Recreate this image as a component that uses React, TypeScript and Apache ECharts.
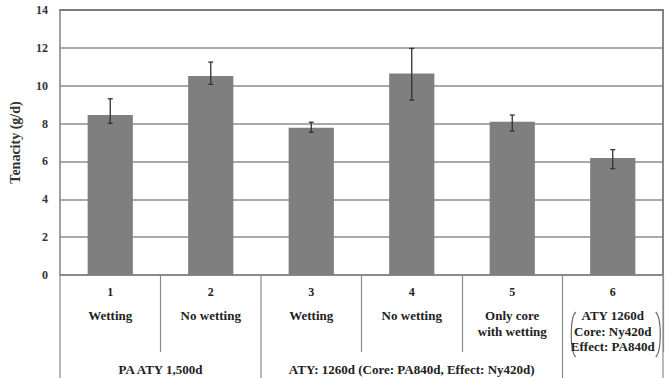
import React, { useEffect, useRef } from "react";
import * as echarts from "echarts";

const categories = ["1", "2", "3", "4", "5", "6"];
const descriptions = [
  "Wetting",
  "No wetting",
  "Wetting",
  "No wetting",
  "Only core\nwith wetting",
  "ATY 1260d\nCore: Ny420d\nEffect: PA840d",
];
const tenacity = [8.45, 10.51, 7.78, 10.65, 8.1, 6.18];
const errLow = [8.01, 10.07, 7.54, 9.24, 7.61, 5.62];
const errHigh = [9.31, 11.25, 8.07, 11.97, 8.45, 6.62];
const groupLabels = ["PA ATY 1,500d", "ATY: 1260d (Core: PA840d, Effect: Ny420d)", ""];
const groupStart = [0, 2, 5];
const groupEnd = [1, 4, 5];
const bracketedCategory = 5;

const FONT = "'Liberation Serif', 'Times New Roman', serif";

const groupBounds = [0, ...groupEnd.map((e) => e + 1)];
const groupCenters = groupStart.map((s, i) => (s + groupEnd[i] + 1) / 2);

export default function App() {
  const ref = useRef<HTMLDivElement>(null);
  useEffect(() => {
    document.body.style.margin = "0";
    const chart = echarts.init(ref.current!, undefined, { renderer: "svg" });
    const n = categories.length;
    chart.setOption({
      animation: false,
      backgroundColor: "#ffffff",
      grid: { left: 59, right: 5, top: 10, bottom: 103 },
      xAxis: [
        {
          type: "category",
          data: categories,
          axisLine: { lineStyle: { color: "#808080", width: 1.5 } },
          axisTick: {
            show: true,
            interval: (i: number) => !groupBounds.includes(i),
            length: 77,
            lineStyle: { color: "#8a8a8a", width: 1.2 },
          },
          axisLabel: {
            interval: 0,
            margin: 1,
            hideOverlap: false,
            color: "#222",
            fontFamily: FONT,
            formatter: (value: string, index: number) =>
              `{n|${value}}\n` +
              descriptions[index]
                .split("\n")
                .map((l) => `{t|${l}}`)
                .join("\n"),
            rich: {
              n: { fontSize: 12, fontWeight: "bold", lineHeight: 32, fontFamily: FONT, color: "#222" },
              t: { fontSize: 13, fontWeight: "bold", lineHeight: 15.5, fontFamily: FONT, color: "#222" },
            },
          },
        },
        {
          type: "value",
          min: 0,
          max: 6,
          position: "bottom",
          offset: 76,
          axisLine: { show: false },
          splitLine: { show: false },
          axisTick: { show: false },
          axisLabel: {
            customValues: groupCenters.filter((_, i) => groupLabels[i]),
            margin: 12,
            fontFamily: FONT,
            fontWeight: "bold",
            fontSize: 13,
            color: "#222",
            formatter: (v: number) => groupLabels[groupCenters.indexOf(v)] || "",
          },
        },
        {
          type: "category",
          data: categories,
          position: "top",
          axisLine: { show: true, lineStyle: { color: "#7a7a7a", width: 1.8 } },
          axisTick: { show: false },
          axisLabel: { show: false },
          splitLine: { show: false },
        },
      ],
      yAxis: [
        {
          type: "value",
          min: 0,
          max: 14,
          interval: 2,
          name: "Tenacity (g/d)",
          nameLocation: "middle",
          nameGap: 38,
          nameRotate: 90,
          nameTextStyle: { fontFamily: FONT, fontWeight: "bold", fontSize: 14, color: "#333" },
          axisLine: { show: true, lineStyle: { color: "#808080", width: 1.5 } },
          axisTick: { show: false },
          axisLabel: { fontFamily: FONT, fontWeight: "bold", fontSize: 12, color: "#333", margin: 12 },
          splitLine: { lineStyle: { color: "#8c8c8c", width: 1.5 } },
        },
        {
          type: "value",
          min: 0,
          max: 14,
          interval: 2,
          position: "right",
          axisLine: { show: true, lineStyle: { color: "#7a7a7a", width: 1.8 } },
          axisTick: { show: false },
          axisLabel: { show: false },
          splitLine: { show: false },
        },
      ],
      series: [
        {
          type: "bar",
          xAxisIndex: 0,
          yAxisIndex: 0,
          data: tenacity,
          barWidth: "45%",
          itemStyle: { color: "#7f7f7f" },
          z: 2,
        },
        {
          type: "custom",
          xAxisIndex: 0,
          yAxisIndex: 0,
          z: 3,
          data: errLow.map((l, i) => [i, l, errHigh[i]]),
          encode: { x: 0, y: [1, 2] },
          renderItem: (params: any, api: any) => {
            const x = api.value(0);
            const lo = api.coord([x, api.value(1)]);
            const hi = api.coord([x, api.value(2)]);
            const cw = 2.5;
            const style = { stroke: "#333", lineWidth: 1.3 };
            return {
              type: "group",
              children: [
                { type: "line", shape: { x1: lo[0], y1: lo[1], x2: hi[0], y2: hi[1] }, style },
                { type: "line", shape: { x1: hi[0] - cw, y1: hi[1], x2: hi[0] + cw, y2: hi[1] }, style },
                { type: "line", shape: { x1: lo[0] - cw, y1: lo[1], x2: lo[0] + cw, y2: lo[1] }, style },
              ],
            };
          },
        },
        {
          type: "custom",
          xAxisIndex: 0,
          yAxisIndex: 0,
          clip: false,
          z: 4,
          silent: true,
          data: groupBounds.map((k) => [Math.min(k, n - 1), 0, k]),
          encode: { x: 0, y: 1 },
          renderItem: (params: any, api: any) => {
            const ci = api.value(0);
            const k = api.value(2);
            const bw = api.size([1, 0])[0];
            const base = api.coord([ci, 0]);
            const x = base[0] + (k - ci - 0.5) * bw;
            return {
              type: "line",
              shape: { x1: x, y1: base[1], x2: x, y2: base[1] + 104 },
              style: { stroke: "#8a8a8a", lineWidth: 1.2 },
            };
          },
        },
      ],
    });

    const c0 = chart.convertToPixel({ xAxisIndex: 0 }, 0) as number;
    const c1 = chart.convertToPixel({ xAxisIndex: 0 }, 1) as number;
    const bw = c1 - c0;
    const axisY = chart.convertToPixel({ yAxisIndex: 0 }, 0) as number;
    const bc = c0 + bracketedCategory * bw;
    const top = axisY + 37;
    const bot = axisY + 82;
    const bl = bc - 41;
    const br = bc + 47;
    const bs = { stroke: "#666", lineWidth: 1.1, fill: null };
    chart.setOption({
      graphic: [
        {
          type: "bezierCurve",
          id: "brL",
          shape: { x1: bl + 4, y1: top, cpx1: bl - 2, cpy1: top + 6, cpx2: bl - 2, cpy2: bot - 6, x2: bl + 4, y2: bot },
          style: bs,
        },
        {
          type: "bezierCurve",
          id: "brR",
          shape: { x1: br - 4, y1: top, cpx1: br + 2, cpy1: top + 6, cpx2: br + 2, cpy2: bot - 6, x2: br - 4, y2: bot },
          style: bs,
        },
      ],
    });
    return () => chart.dispose();
  }, []);
  return (
    <div
      ref={ref}
      style={{ position: "absolute", left: 0, top: 0, width: 668, height: 378 }}
    />
  );
}
